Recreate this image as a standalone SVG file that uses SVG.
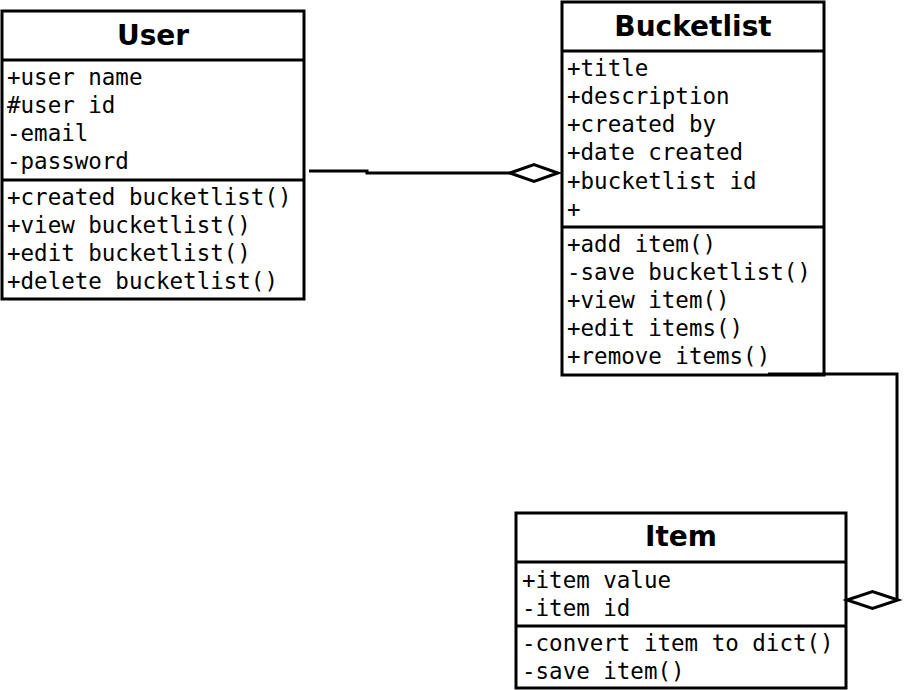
<svg xmlns="http://www.w3.org/2000/svg" width="905" height="690" viewBox="0 0 905 690">
<style>
.box{fill:#fff;stroke:#000;stroke-width:3}
.div{stroke:#000;stroke-width:3}
.title{font-family:"DejaVu Sans",sans-serif;font-weight:bold;font-size:28px;text-anchor:middle;fill:#000}
.mem{font-family:"DejaVu Sans Mono",monospace;font-size:22.5px;fill:#000}
.conn{fill:none;stroke:#000;stroke-width:3}
.dia{fill:#fff;stroke:#000;stroke-width:3;stroke-linejoin:miter}
</style>
<rect width="905" height="690" fill="#fff"/>
<g id="user">
<rect class="box" x="2" y="11" width="302" height="288"/>
<line class="div" x1="2" y1="60" x2="304" y2="60"/>
<line class="div" x1="2" y1="180" x2="304" y2="180"/>
<text class="title" x="153" y="45">User</text>
<text class="mem" x="7" y="85">+user name</text>
<text class="mem" x="7" y="113">#user id</text>
<text class="mem" x="7" y="141">-email</text>
<text class="mem" x="7" y="169">-password</text>
<text class="mem" x="7" y="205">+created bucketlist()</text>
<text class="mem" x="7" y="233">+view bucketlist()</text>
<text class="mem" x="7" y="261">+edit bucketlist()</text>
<text class="mem" x="7" y="289">+delete bucketlist()</text>
</g>
<g id="bucketlist">
<rect class="box" x="562" y="2" width="262" height="373"/>
<line class="div" x1="562" y1="51" x2="824" y2="51"/>
<line class="div" x1="562" y1="227" x2="824" y2="227"/>
<text class="title" x="693" y="36">Bucketlist</text>
<text class="mem" x="567" y="76">+title</text>
<text class="mem" x="567" y="104">+description</text>
<text class="mem" x="567" y="132">+created by</text>
<text class="mem" x="567" y="160">+date created</text>
<text class="mem" x="567" y="189">+bucketlist id</text>
<text class="mem" x="567" y="217">+</text>
<text class="mem" x="567" y="252">+add item()</text>
<text class="mem" x="567" y="280">-save bucketlist()</text>
<text class="mem" x="567" y="308">+view item()</text>
<text class="mem" x="567" y="336">+edit items()</text>
<text class="mem" x="567" y="364">+remove items()</text>
</g>
<g id="item">
<rect class="box" x="516" y="513" width="330" height="175"/>
<line class="div" x1="516" y1="562" x2="846" y2="562"/>
<line class="div" x1="516" y1="626" x2="846" y2="626"/>
<text class="title" x="681" y="546">Item</text>
<text class="mem" x="522" y="588">+item value</text>
<text class="mem" x="522" y="616">-item id</text>
<text class="mem" x="522" y="651">-convert item to dict()</text>
<text class="mem" x="522" y="679">-save item()</text>
</g>
<g id="connectors">
<path class="conn" d="M309,171 H367 V173 H510"/>
<polygon class="dia" points="510,173 534,164.5 558,173 534,181.5"/>
<path class="conn" d="M768,374 H897 V600"/>
<polygon class="dia" points="898,600 872.5,591.5 847,600 872.5,608.5"/>
</g>
</svg>
